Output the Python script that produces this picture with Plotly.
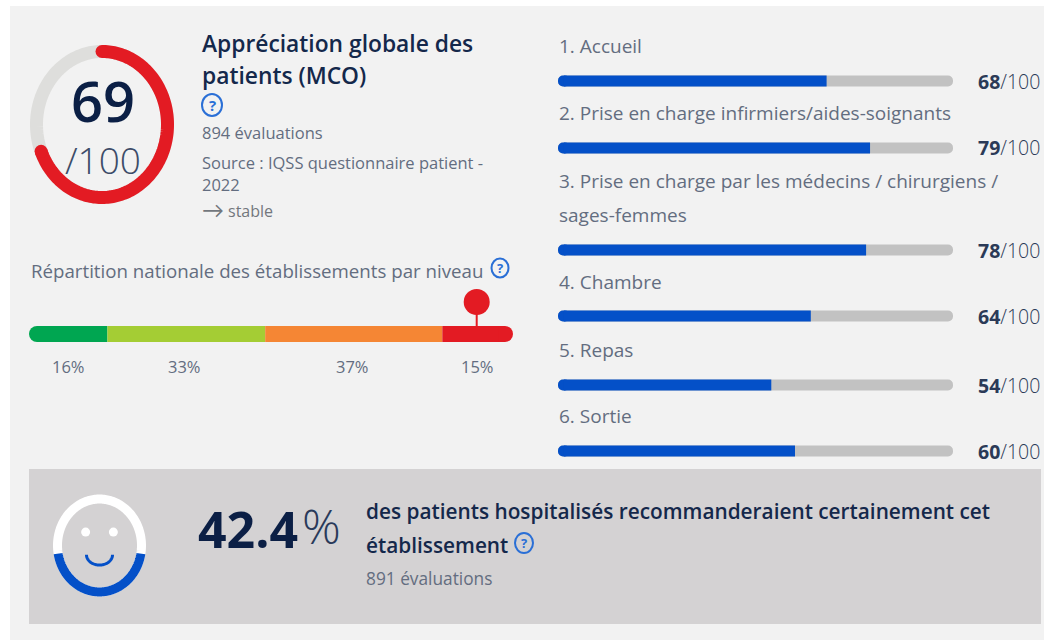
import numpy as np
import plotly.graph_objects as go

W, H = 1044, 640

# ---- data
overall_score = 69
score_max = 100
criteria = ["1. Accueil", "2. Prise en charge infirmiers/aides-soignants",
            "3. Prise en charge par les médecins / chirurgiens /",
            "sages-femmes",
            "4. Chambre", "5. Repas", "6. Sortie"]
criteria_scores = [68, 79, 78, 64, 54, 60]
level_shares = [16.2, 32.6, 36.6, 14.6]
level_labels = ["16%", "33%", "37%", "15%"]
level_colors = ["#00a651", "#a4cd34", "#f58634", "#e31b23"]
establishment_position = 92.5
recommend_share = 42.4

# ---- layout constants (pixels in the page)
bar_rows = [81, 148, 250, 316, 385, 451]
label_rows = [46, 113, 181, 215, 282, 350, 416]
level_label_x = [68, 184, 352, 477]

NAVY = "#14284b"
DARK = "#0b1f45"
MUTED = "#636d80"
GREY = "#73777d"
BLUE = "#0450c8"
RED = "#e31b23"
TRACK = "#c2c2c2"
RING = "#dededc"
FONT = "Open Sans"
CAP = 3  # length of the short rounded end pieces, in axis units


def px_x(p):
    return p / W


def px_y(p):
    return 1 - p / H


fig = go.Figure()

# ---- right column: one progress bar per criterion
fig.add_trace(go.Bar(y=bar_rows, x=[score_max] * 6, base=[0] * 6, orientation="h", width=11,
                     marker=dict(color=TRACK, cornerradius=5), xaxis="x", yaxis="y"))
fig.add_trace(go.Bar(y=bar_rows, x=[CAP] * 6, base=[0] * 6, orientation="h", width=11,
                     marker=dict(color=BLUE, cornerradius=5), xaxis="x", yaxis="y"))
fig.add_trace(go.Bar(y=bar_rows, x=[v - CAP / 2 for v in criteria_scores],
                     base=[CAP / 2] * 6, orientation="h", width=11,
                     marker=dict(color=BLUE), xaxis="x", yaxis="y"))

# ---- gauge
full = np.linspace(0, 360, 241)
arc = np.linspace(0, overall_score / score_max * 360, 167)
smooth = dict(simplify=False)
fig.add_trace(go.Scatter(x=np.sin(np.radians(full)), y=np.cos(np.radians(full)), mode="lines",
                         line=dict(color=RING, width=13, **smooth), xaxis="x2", yaxis="y2"))
fig.add_trace(go.Scatter(x=np.sin(np.radians(arc)), y=np.cos(np.radians(arc)), mode="lines",
                         line=dict(color=RED, width=13, **smooth), xaxis="x2", yaxis="y2"))
fig.add_trace(go.Scatter(x=np.sin(np.radians(arc[[0, -1]])), y=np.cos(np.radians(arc[[0, -1]])),
                         mode="markers", marker=dict(color=RED, size=13), xaxis="x2", yaxis="y2"))

# ---- national distribution
total = sum(level_shares)
starts = np.cumsum([0] + level_shares[:-1]).tolist()
fig.add_trace(go.Bar(y=[8, 8], x=[CAP * 2, CAP * 2], base=[0, total - CAP * 2],
                     orientation="h", width=16,
                     marker=dict(color=[level_colors[0], level_colors[-1]], cornerradius=8),
                     xaxis="x3", yaxis="y3"))
fig.add_trace(go.Bar(y=[8, 8, 8, 8],
                     x=[level_shares[0] - CAP, level_shares[1], level_shares[2], level_shares[3] - CAP],
                     base=[CAP, starts[1], starts[2], starts[3]],
                     orientation="h", width=16, marker=dict(color=level_colors),
                     xaxis="x3", yaxis="y3"))
fig.add_trace(go.Scatter(x=[establishment_position] * 2, y=[16, 40], mode="lines",
                         line=dict(color=RED, width=2), xaxis="x3", yaxis="y3"))
fig.add_trace(go.Scatter(x=[establishment_position], y=[40], mode="markers",
                         marker=dict(color=RED, size=26), xaxis="x3", yaxis="y3"))

# ---- smiley: ring filled up to the recommendation share
ring_t = np.radians(np.linspace(0, 360, 241))
ring_x = np.cos(ring_t)
ring_y = 50 + 45.1 * np.sin(ring_t)
fig.add_trace(go.Scatter(x=ring_x, y=ring_y, mode="lines", line=dict(color="white", width=9, **smooth),
                         xaxis="x4", yaxis="y4"))
low_t = np.radians(np.linspace(180, 360, 361))
low_x = np.cos(low_t)
low_y = 50 + 45.1 * np.sin(low_t)
keep = low_y <= recommend_share
fig.add_trace(go.Scatter(x=low_x[keep], y=low_y[keep], mode="lines", line=dict(color=BLUE, width=9, **smooth),
                         xaxis="x4", yaxis="y4"))
fig.add_trace(go.Scatter(x=[-0.33, 0.33], y=[63, 63], mode="markers",
                         marker=dict(color="white", size=9), xaxis="x4", yaxis="y4"))
smile_t = np.radians(np.linspace(180, 360, 61))
fig.add_trace(go.Scatter(x=0.31 * np.cos(smile_t), y=41 + 10 * np.sin(smile_t), mode="lines",
                         line=dict(color=BLUE, width=3, **smooth), xaxis="x4", yaxis="y4"))

# ---- texts
ann = []


def text(x, y, s, size, color=MUTED, anchor="left", weight=400, family=FONT):
    ann.append(dict(xref="paper", yref="paper", x=px_x(x), y=px_y(y), text=s, showarrow=False,
                    xanchor=anchor, yanchor="middle", align=anchor,
                    font=dict(family=family, size=size, color=color, weight=weight)))


text(103, 100, "69", 56, DARK, "center", 600)
text(103, 159, "/100", 37, "#3c4c69", "center", 300)
text(200, 44, "Appréciation globale des", 22.8, NAVY, weight=600)
text(200, 75, "patients (MCO)", 22.8, NAVY, weight=600)
text(200, 133, "894 évaluations", 16.5)
text(200, 162, "Source : IQSS questionnaire patient -", 16.5)
text(200, 184, "2022", 16.5)
text(200, 209, "→", 22, GREY, family="Lato")
text(226, 211, "stable", 16, GREY)
text(29, 270, "Répartition nationale des établissements par niveau", 18.7)
for lx, lab in zip(level_label_x, level_labels):
    text(lx, 366, lab, 16.5, MUTED, "center")
for y, lab in zip(label_rows, criteria):
    text(557, y, lab, 19)
for y, v in zip(bar_rows, criteria_scores):
    text(1042, y, f"<b>{v}</b><span style='font-weight:300'>/{score_max}</span>", 19.5, "#2b3a57", "right")
text(196, 529, f"{recommend_share}", 50, DARK, weight=700)
text(300, 525, "%", 48, "#2a3a5a", weight=300)
text(364, 511, "des patients hospitalisés recommanderaient certainement cet", 20.8, NAVY, weight=600)
text(364, 545, "établissement", 20.8, NAVY, weight=600)
text(364, 578, "891 évaluations", 17.3)

# ---- question-mark icons
shapes = [
    dict(type="rect", xref="paper", yref="paper", x0=px_x(10), x1=1, y0=0, y1=px_y(6),
         fillcolor="#f2f2f2", line_width=0, layer="below"),
    dict(type="rect", xref="paper", yref="paper", x0=px_x(29), x1=px_x(1041), y0=px_y(624), y1=px_y(469),
         fillcolor="#d4d2d3", line_width=0, layer="below"),
]
for cx, cy, rx, ry, fs in [(212, 105, 10, 11, 15), (500, 268, 8.5, 9.5, 13), (524, 543, 9, 10, 13)]:
    shapes.append(dict(type="circle", xref="paper", yref="paper", x0=px_x(cx - rx), x1=px_x(cx + rx),
                       y0=px_y(cy + ry), y1=px_y(cy - ry), line=dict(color="#2a6fd6", width=2)))
    text(cx, cy, "?", fs, "#2a6fd6", "center", 700)

hidden = dict(visible=False, fixedrange=True)
fig.update_layout(
    template="none",
    width=W, height=H, margin=dict(l=0, r=0, t=0, b=0), autosize=False,
    paper_bgcolor="white", plot_bgcolor="rgba(0,0,0,0)", showlegend=False,
    hovermode=False, barmode="overlay", font=dict(family=FONT),
    annotations=ann, shapes=shapes,
    xaxis=dict(hidden, domain=[px_x(558), px_x(953)], range=[0, score_max], anchor="y"),
    yaxis=dict(hidden, domain=[0, 1], range=[H, 0], anchor="x"),
    xaxis2=dict(hidden, domain=[px_x(30), px_x(174)], range=[-72 / 65.5, 72 / 65.5], anchor="y2"),
    yaxis2=dict(hidden, domain=[px_y(204), px_y(45)], range=[-79.5 / 73, 79.5 / 73], anchor="x2"),
    xaxis3=dict(hidden, domain=[px_x(29), px_x(513)], range=[0, total], anchor="y3"),
    yaxis3=dict(hidden, domain=[px_y(342), px_y(282)], range=[0, 60], anchor="x3"),
    xaxis4=dict(hidden, domain=[px_x(53), px_x(146)], range=[-46.5 / 42, 46.5 / 42], anchor="y4"),
    yaxis4=dict(hidden, domain=[px_y(597), px_y(494)], range=[0, 100], anchor="x4"),
)

fig.write_html("out.html", config=dict(displayModeBar=False),
               post_script="document.body.style.margin='0';document.documentElement.style.overflow='hidden';")
